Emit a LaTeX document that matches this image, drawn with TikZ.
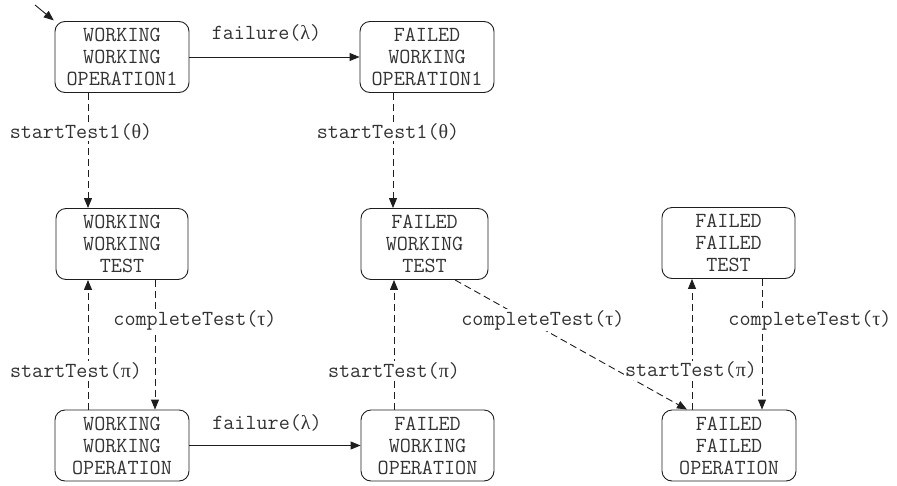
\documentclass[tikz,border=0pt]{standalone}
\usepackage{fontspec}
\newfontfamily\greekfont{Liberation Serif}
\newcommand{\gk}[1]{{\greekfont\fontsize{20}{22}\selectfont #1}}
\usetikzlibrary{arrows.meta}
\definecolor{ink}{HTML}{1E1E1E}
\definecolor{txt}{HTML}{333333}
\begin{document}
\begin{tikzpicture}[x=1pt,y=-1pt,
  labelfont/.style={text=txt, font=\ttfamily\fontsize{21.5}{22}\selectfont},
  state/.style={labelfont, draw=ink, line width=0.9pt, rounded corners=10pt, align=center,
    minimum height=71pt, inner sep=0pt},
  lbl/.style={labelfont, fill=white, inner sep=1pt},
  trans/.style={draw=ink, line width=0.9pt, -{Triangle[length=10pt,width=8pt]}},
  dtrans/.style={trans, dash pattern=on 7pt off 4pt}]
\useasboundingbox (0,0) rectangle (897,485);

% states
\node[state, minimum width=134pt] (A) at (122,57)    {WORKING\\WORKING\\OPERATION1};
\node[state, minimum width=134pt] (B) at (427,57)    {FAILED\\WORKING\\OPERATION1};
\node[state, minimum width=132pt] (C) at (122,244)   {WORKING\\WORKING\\TEST};
\node[state, minimum width=127pt] (D) at (424.5,244) {FAILED\\WORKING\\TEST};
\node[state, minimum width=133pt] (E) at (728.5,243) {FAILED\\FAILED\\TEST};
\node[state, minimum width=134pt] (F) at (122,445.5) {WORKING\\WORKING\\OPERATION};
\node[state, minimum width=133pt] (G) at (427.5,445.5) {FAILED\\WORKING\\OPERATION};
\node[state, minimum width=134pt] (H) at (729,445.5) {FAILED\\FAILED\\OPERATION};

% initial state marker
\coordinate (init) at (35,5);
\draw[trans, shorten >=1pt] (init) -- (A.north west);

% failures
\draw[trans] (A.east) -- node[labelfont, midway, yshift=24pt, xshift=-8pt] {failure(\gk{λ})} (B.west);
\draw[trans] (F.east) -- node[labelfont, midway, yshift=23pt, xshift=-8pt] {failure(\gk{λ})} (G.west);

% test transitions
\coordinate (a1) at ([xshift=-34pt]A.south);
\draw[dtrans] (a1) -- node[lbl, pos=0.34, xshift=-7pt] {startTest1(\gk{θ})} (a1 |- C.north);

\coordinate (b1) at ([xshift=-34pt]B.south);
\draw[dtrans] (b1) -- node[lbl, pos=0.34, xshift=-5pt] {startTest1(\gk{θ})} (b1 |- D.north);

\coordinate (c1) at ([xshift=33pt]C.south);
\draw[dtrans] (c1) -- node[lbl, pos=0.31, xshift=40pt] {completeTest(\gk{τ})} (c1 |- F.north);

\coordinate (f1) at ([xshift=-34pt]F.north);
\draw[dtrans] (f1) -- node[lbl, pos=0.30, xshift=-12pt] {startTest(\gk{π})} (f1 |- C.south);

\coordinate (g1) at ([xshift=-33.5pt]G.north);
\draw[dtrans] (g1) -- node[lbl, pos=0.30] {startTest(\gk{π})} (g1 |- D.south);

\coordinate (d1) at ([xshift=30.5pt]D.south);
\coordinate (h0) at ([xshift=-42pt]H.north);
\draw[dtrans] (d1) -- node[lbl, pos=0.31, xshift=16pt] {completeTest(\gk{τ})} (h0);

\coordinate (h1) at ([xshift=-37pt]H.north);
\draw[dtrans] (h1) -- node[lbl, pos=0.30, xshift=-1pt] {startTest(\gk{π})} (h1 |- E.south);

\coordinate (e1) at ([xshift=33.5pt]E.south);
\draw[dtrans] (e1) -- node[lbl, pos=0.32, xshift=48pt] {completeTest(\gk{τ})} (e1 |- H.north);
\end{tikzpicture}
\end{document}
